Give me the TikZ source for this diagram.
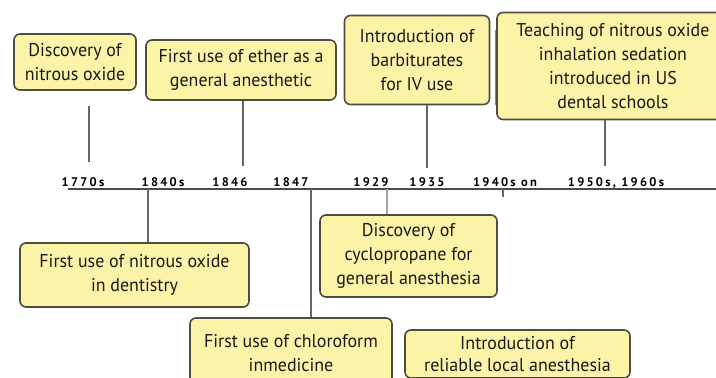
\documentclass[tikz,border=0pt]{standalone}
\usepackage{fontspec}
\setmainfont{PT Sans}
\usetikzlibrary{calc}
\definecolor{boxfill}{HTML}{FAF3A8}
\definecolor{boxline}{HTML}{4E4C3C}
\definecolor{conn}{HTML}{666666}
\tikzset{
  evbox/.style={draw=boxline, line width=1.6pt, fill=boxfill, rounded corners=6pt,
    align=center, inner sep=0pt, font=\fontsize{18.5}{24}\selectfont\addfontfeature{FakeStretch=0.97}, text=black!90},
  tightbox/.style={evbox, font=\fontsize{18.5}{22}\selectfont\addfontfeature{FakeStretch=0.97}},
  yearlbl/.style={font=\fontsize{12.5}{12}\selectfont\bfseries\addfontfeature{LetterSpace=18}, inner sep=0pt, anchor=base},
  connline/.style={draw=conn, line width=1.6pt},
}
\begin{document}
\begin{tikzpicture}[x=1pt,y=-1pt]
\useasboundingbox (0,0) rectangle (716,378);
\clip (0,0) rectangle (716,378);
% axis
\coordinate (axL) at (68,189);
\coordinate (axR) at (716,189);
\draw[connline, line width=1.8pt, draw=black!70] (axL) -- (axR);
% year labels
\node[yearlbl] (y1) at (83,186) {1770s};
\node[yearlbl] (y2) at (163,186) {1840s};
\node[yearlbl] (y3) at (230,186) {1846};
\node[yearlbl] (y4) at (291,186) {1847};
\node[yearlbl] (y5) at (371,186) {1929};
\node[yearlbl] (y6) at (427,186) {1935};
\node[yearlbl] (y7) at (505,186) {1940s on};
\node[yearlbl] (y8) at (616,186) {1950s, 1960s};
% boxes above
\node[evbox, minimum width=122pt, minimum height=56pt] (b1) at (75,62) {Discovery of\\nitrous oxide};
\node[evbox, minimum width=190pt, minimum height=60pt] (b2) at (241,70) {First use of ether as a\\general anesthetic};
\node[evbox, minimum width=145pt, minimum height=89pt] (b3) at (417,60) {Introduction of\\barbiturates\\for IV use};
\node[evbox, minimum width=232pt, minimum height=107pt] (b4) at (613,66) {Teaching of nitrous oxide\\inhalation sedation\\introduced in US\\dental schools};
% boxes below
\node[evbox, minimum width=229pt, minimum height=64pt] (b5) at (134.5,275) {First use of nitrous oxide\\in dentistry};
\node[evbox, minimum width=202pt, minimum height=70pt] (b6) at (291,353) {First use of chloroform\\inmedicine};
\node[tightbox, minimum width=225pt, minimum height=48pt] (b8) at (517.5,354) {Introduction of\\reliable local anesthesia};
\node[evbox, minimum width=177pt, minimum height=82pt] (b7) at (408.5,256) {Discovery of\\cyclopropane for\\general anesthesia};
% connector endpoints on axis
\coordinate (t1) at (89,162);
\coordinate (t2) at (243,166);
\coordinate (t3) at (427,168);
\coordinate (t4) at (605,166);
\coordinate (t5) at (148,189);
\coordinate (t6) at (311,189);
\coordinate (t7) at (387,189);
\coordinate (t8) at (503,189);
\coordinate (t8e) at (503,197);
\coordinate (g1) at (495,30);
\coordinate (g2) at (495,105);
\draw[connline] (b1.south -| t1) ++(0,15) -- (t1);
\draw[connline] (b2.south -| t2) -- (t2);
\draw[connline] (b3.south -| t3) -- (t3);
\draw[connline] (b4.south -| t4) -- (t4);
\draw[connline] (t5) -- (b5.north -| t5);
\draw[connline] (t6) -- (b6.north -| t6);
\draw[connline, draw=conn!60] (t7) -- (b7.north -| t7);
\draw[connline] (t8) -- (t8e);
\draw[draw=conn!80, line width=1pt] (g1) -- (g2);
\end{tikzpicture}
\end{document}
